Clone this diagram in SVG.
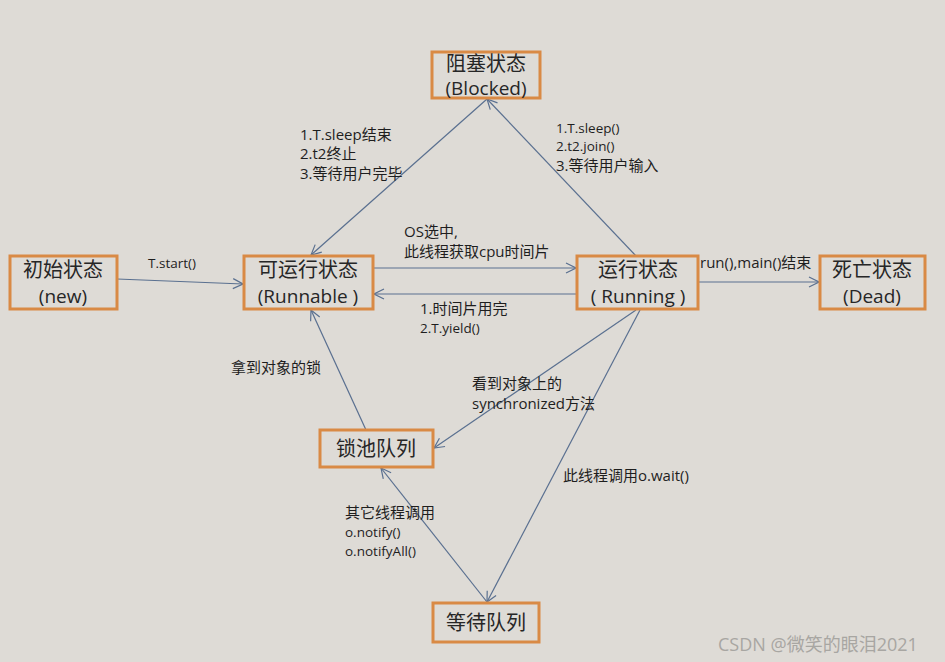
<svg xmlns="http://www.w3.org/2000/svg" width="945" height="662" viewBox="0 0 945 662">
<defs>
<marker id="arr" viewBox="0 0 12 12" refX="11" refY="6" markerWidth="12" markerHeight="12" markerUnits="userSpaceOnUse" orient="auto">
<path d="M1,1 L11,6 L1,11" fill="none" stroke="#5a7090" stroke-width="1.2"/>
</marker>
</defs>
<style>
.bg{fill:#dedbd6}
.box{fill:#dedbd6;stroke:#d98a45;stroke-width:3}
.nt{font-family:"Open Sans","Noto Sans CJK SC",sans-serif;font-size:19px;fill:#262626;text-anchor:middle}
.nc{font-size:20px}
.lb{font-family:"Open Sans","Noto Sans CJK SC",sans-serif;font-size:13.5px;fill:#1e1e1e}
.lc{font-size:15px}
.ed{fill:none;stroke:#5a7090;stroke-width:1.2;marker-end:url(#arr)}
.wm{font-family:"Open Sans","Noto Sans CJK SC",sans-serif;font-size:18px;fill:#a8a6a2}
</style>
<rect class="bg" x="0" y="0" width="945" height="662"/>
<g id="connectors">
<line class="ed" x1="117" y1="279" x2="243" y2="284"/>
<line class="ed" x1="373" y1="268" x2="576" y2="268"/>
<line class="ed" x1="577" y1="294" x2="374" y2="294"/>
<line class="ed" x1="698" y1="282" x2="819" y2="282"/>
<line class="ed" x1="636" y1="256" x2="487" y2="99"/>
<line class="ed" x1="487" y1="99" x2="311" y2="255"/>
<line class="ed" x1="366" y1="430" x2="311" y2="310"/>
<line class="ed" x1="636" y1="310" x2="434" y2="448"/>
<line class="ed" x1="640" y1="310" x2="487" y2="602"/>
<line class="ed" x1="487" y1="602" x2="381" y2="468"/>
</g>
<g id="blocked">
<rect class="box" x="432" y="52" width="108" height="46"/>
<text class="nt nc" x="486" y="71">阻塞状态</text>
<text class="nt" x="486" y="95">(Blocked)</text>
</g>
<g id="new">
<rect class="box" x="10" y="256" width="107" height="53"/>
<text class="nt nc" x="63" y="277">初始状态</text>
<text class="nt" x="63" y="303">(new)</text>
</g>
<g id="runnable">
<rect class="box" x="244" y="256" width="129" height="53"/>
<text class="nt nc" x="308" y="277">可运行状态</text>
<text class="nt" x="308" y="303">(Runnable )</text>
</g>
<g id="running">
<rect class="box" x="577" y="256" width="121" height="53"/>
<text class="nt nc" x="638" y="277">运行状态</text>
<text class="nt" x="638" y="303">( Running )</text>
</g>
<g id="dead">
<rect class="box" x="820" y="256" width="105" height="53"/>
<text class="nt nc" x="872" y="277">死亡状态</text>
<text class="nt" x="872" y="303">(Dead)</text>
</g>
<g id="lockpool">
<rect class="box" x="320" y="430" width="113" height="37"/>
<text class="nt nc" x="376" y="456">锁池队列</text>
</g>
<g id="waiting">
<rect class="box" x="433" y="603" width="106" height="39"/>
<text class="nt nc" x="486" y="630">等待队列</text>
</g>
<g id="labels">
<text class="lb" x="148" y="268">T.start()</text>
<text class="lb lc" x="404" y="237">OS选中,</text>
<text class="lb lc" x="404" y="257">此线程获取cpu时间片</text>
<text class="lb lc" x="420" y="314">1.时间片用完</text>
<text class="lb" x="420" y="333">2.T.yield()</text>
<text class="lb lc" x="700" y="268">run(),main()结束</text>
<text class="lb lc" x="300" y="140">1.T.sleep结束</text>
<text class="lb lc" x="300" y="159">2.t2终止</text>
<text class="lb lc" x="300" y="179">3.等待用户完毕</text>
<text class="lb" x="556" y="133">1.T.sleep()</text>
<text class="lb" x="556" y="151">2.t2.join()</text>
<text class="lb lc" x="556" y="171">3.等待用户输入</text>
<text class="lb lc" x="231" y="373">拿到对象的锁</text>
<text class="lb lc" x="472" y="389">看到对象上的</text>
<text class="lb lc" x="472" y="409">synchronized方法</text>
<text class="lb lc" x="563" y="481">此线程调用o.wait()</text>
<text class="lb lc" x="345" y="518">其它线程调用</text>
<text class="lb" x="345" y="537">o.notify()</text>
<text class="lb" x="345" y="556">o.notifyAll()</text>
</g>
<text class="wm" x="718" y="651">CSDN @微笑的眼泪2021</text>
</svg>
